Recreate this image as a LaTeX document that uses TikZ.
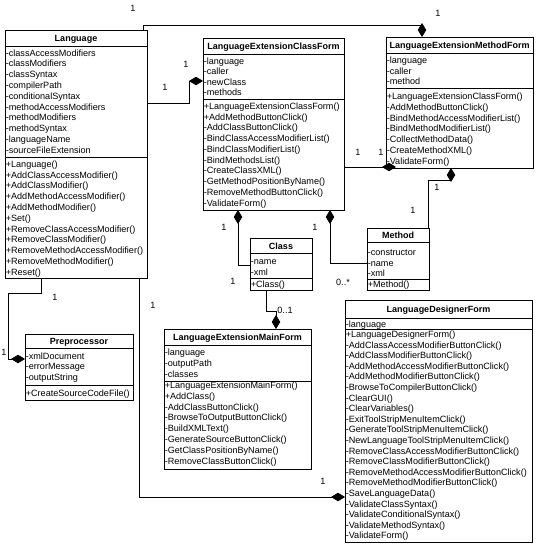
\documentclass[tikz,border=0pt]{standalone}
\usepackage{fontspec}
\setmainfont{Liberation Sans}
\usetikzlibrary{arrows.meta,calc}
\tikzset{
  box/.style={draw, line width=0.8pt, inner sep=0pt, outer sep=0pt, anchor=north west},
  sepline/.style={line width=0.8pt},
  row/.style={anchor=base west, inner sep=0pt, font=\fontsize{9.1}{10.7}\selectfont},
  ttl/.style={anchor=base, inner sep=0pt, font=\fontsize{9}{10.7}\selectfont\bfseries},
  lbl/.style={inner sep=0pt, font=\fontsize{9.1}{10.7}\selectfont},
  conn/.style={line width=0.8pt},
  comp/.style={conn, -{Diamond[length=14pt,width=8.5pt]}},
}
\newcommand\umlclass[9]{%
  \node[box, minimum width=#4pt, minimum height=#5pt] (#1) at (#2,#3) {};
  \node[ttl] (#1T) at ({#2+#4/2},#7) {#6};
  \draw[sepline] (#2,#8) -- ++(#4,0);
  \draw[sepline] (#2,#9) -- ++(#4,0);
}
\newcommand\rowlist[5]{%
  \foreach \t [count=\i from 0] in {#5} \node[row] (#1\i) at (#2,{#3+\i*#4}) {\t};
}
\begin{document}
\begin{tikzpicture}[x=1pt,y=-1pt]
\useasboundingbox (0,0) rectangle (536,554);

% Language
\umlclass{lang}{5}{30}{142}{248}{Language}{41.5}{46}{157}
\rowlist{langA}{5.6}{56.2}{10.78}{-classAccessModifiers,-classModifiers,-classSyntax,-compilerPath,-conditionalSyntax,-methodAccessModifiers,-methodModifiers,-methodSyntax,-languageName,-sourceFileExtension}
\rowlist{langM}{5.6}{167.2}{10.8}{+Language(),+AddClassAccessModifier(),+AddClassModifier(),+AddMethodAccessModifier(),+AddMethodModifier(),+Set(),+RemoveClassAccessModifier(),+RemoveClassModifier(),+RemoveMethodAccessModifier(),+RemoveMethodModifier(),+Reset()}

% LanguageExtensionClassForm
\umlclass{lecf}{203}{38}{141}{172}{LanguageExtensionClassForm}{49.5}{54}{99}
\rowlist{lecfA}{203.6}{64.2}{10.5}{-language,-caller,-newClass,-methods}
\rowlist{lecfM}{203.6}{109.5}{10.74}{+LanguageExtensionClassForm(),+AddMethodButtonClick(),-AddClassButtonClick(),-BindClassAccessModifierList(),-BindClassModifierList(),-BindMethodsList(),-CreateClassXML(),-GetMethodPositionByName(),-RemoveMethodButtonClick(),-ValidateForm()}

% LanguageExtensionMethodForm
\umlclass{lemf}{386}{37}{147}{131}{LanguageExtensionMethodForm}{48.5}{53}{88}
\rowlist{lemfA}{386.6}{63.5}{10.5}{-language,-caller,-method}
\rowlist{lemfM}{386.6}{99.5}{10.8}{+LanguageExtensionClassForm(),-AddMethodButtonClick(),-BindMethodAccessModifierList(),-BindMethodModifierList(),-CollectMethodData(),-CreateMethodXML(),-ValidateForm()}

% Class
\umlclass{cls}{250}{238}{62}{52}{Class}{249.5}{253}{278}
\rowlist{clsA}{250.6}{264.5}{10.5}{-name,-xml}
\rowlist{clsM}{250.6}{287.5}{10.5}{+Class()}

% Method
\umlclass{meth}{367}{228}{62}{62}{Method}{238.8}{242}{279.5}
\rowlist{methA}{367.6}{255.5}{10.5}{-constructor,-name,-xml}
\rowlist{methM}{367.6}{287.5}{10.5}{+Method()}

% Preprocessor
\umlclass{pre}{25}{334}{108}{66}{Preprocessor}{344.5}{348}{385}
\rowlist{preA}{25.6}{359.2}{10.6}{-xmlDocument,-errorMessage,-outputString}
\rowlist{preM}{25.6}{396}{10.6}{+CreateSourceCodeFile()}

% LanguageExtensionMainForm
\umlclass{lemm}{164}{329}{147}{140}{LanguageExtensionMainForm}{340.5}{345}{381}
\rowlist{lemmA}{164.6}{355.5}{10.75}{-language,-outputPath,-classes}
\rowlist{lemmM}{164.6}{388.5}{10.8}{+LanguageExtensionMainForm(),+AddClass(),-AddClassButtonClick(),-BrowseToOutputButtonClick(),-BuildXMLText(),-GenerateSourceButtonClick(),-GetClassPositionByName(),-RemoveClassButtonClick()}

% LanguageDesignerForm
\umlclass{ldf}{345}{300}{187}{242}{LanguageDesignerForm}{312.5}{318}{329}
\rowlist{ldfA}{345.6}{327}{10.6}{-language}
\rowlist{ldfM}{345.6}{337.5}{10.6}{+LanguageDesignerForm(),-AddClassAccessModifierButtonClick(),-AddClassModifierButtonClick(),-AddMethodAccessModifierButtonClick(),-AddMethodModifierButtonClick(),-BrowseToCompilerButtonClick(),-ClearGUI(),-ClearVariables(),-ExitToolStripMenuItemClick(),-GenerateToolStripMenuItemClick(),-NewLanguageToolStripMenuItemClick(),-RemoveClassAccessModifierButtonClick(),-RemoveClassModifierButtonClick(),-RemoveMethodAccessModifierButtonClick(),-RemoveMethodModifierButtonClick(),-SaveLanguageData(),-ValidateClassSyntax(),-ValidateConditionalSyntax(),-ValidateMethodSyntax(),-ValidateForm()}

% Connectors
\draw[comp] ($(lang.north west)+(138,0)$) -- ++(0,-5) -| ($(lemf.north west)+(36,0)$);
\draw[comp] ($(lang.north east)+(0,73)$) -| ($(lecf.north west)+(-14,43)$) -- ($(lecf.north west)+(0,43)$);
\draw[comp] ($(lecf.south east)+(0,-43)$) -- ($(lemf.south west)+(10,-1)$);
\draw[comp] ($(meth.north east)+(-1,0)$) |- ($(lemf.south west)+(65,12)$) -- ($(lemf.south west)+(65,0)$);
\draw[comp] ($(cls.north west)+(0,27)$) -| ($(lecf.south west)+(35,0)$);
\draw[comp] ($(meth.north west)+(0,35)$) -| ($(lecf.south west)+(127,0)$);
\draw[comp] ($(cls.south west)+(16,0)$) -- ++(0,21) -| ($(lemm.north west)+(112,0)$);
\draw[comp] ($(lang.south west)+(36,0)$) -- ++(0,15) -| ($(pre.north west)+(-17,25)$) -- ($(pre.north west)+(0,25)$);
\draw[comp] ($(lang.south east)+(-8,0)$) |- ($(ldf.north west)+(0,197)$);

% Multiplicities
\node[lbl] (m1a) at (133,8) {1};
\node[lbl] (m1b) at (438,13) {1};
\node[lbl] (m2a) at (165,87) {1};
\node[lbl] (m2b) at (186,64) {1};
\node[lbl] (m3a) at (358,152) {1};
\node[lbl] (m3b) at (381,152) {1};
\node[lbl] (m4a) at (437,187) {1};
\node[lbl] (m4b) at (413,210) {1};
\node[lbl] (m5a) at (224,227) {1};
\node[lbl] (m5b) at (233,281) {1};
\node[lbl] (m6a) at (315,227) {1};
\node[lbl] (m6b) at (343,282) {0..*};
\node[lbl] (m7) at (285,310) {0..1};
\node[lbl] (m8a) at (55,297) {1};
\node[lbl] (m8b) at (4,352) {1};
\node[lbl] (m9a) at (153,305) {1};
\node[lbl] (m9b) at (323,481) {1};
\end{tikzpicture}
\end{document}
